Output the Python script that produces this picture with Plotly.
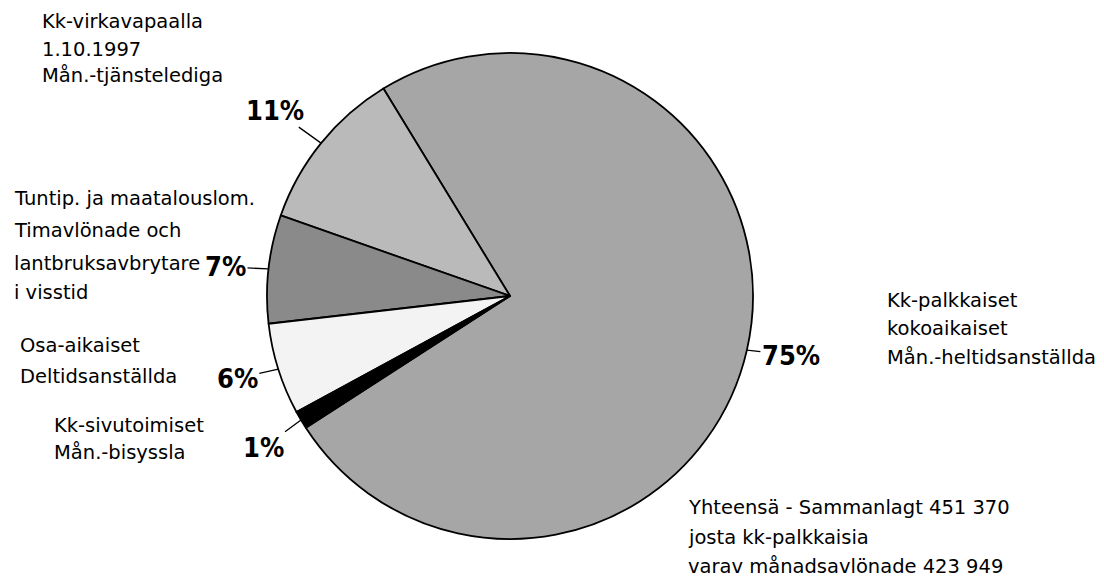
import math
import plotly.graph_objects as go

W, H = 1104, 579

# ---------------- data ----------------
categories = [
    "Kk-palkkaiset kokoaikaiset",
    "Kk-virkavapaalla",
    "Tuntip. ja maatalouslom.",
    "Osa-aikaiset",
    "Kk-sivutoimiset",
]
shares = [74.6, 10.9, 7.2, 6.1, 1.2]          # percent of total
pct_labels = [f"{round(v)}%" for v in shares]
slice_colors = ["#a6a6a6", "#bababa", "#8a8a8a", "#f3f3f3", "#000000"]

total_all = 451370
total_monthly = 423949

def fmt(n):
    return f"{n:,}".replace(",", " ")

# category descriptions (text lines), left x, line centre y (pixels)
text_blocks = [
    (["Kk-palkkaiset", "kokoaikaiset", "Mån.-heltidsanställda"], 885, [300, 329, 357]),
    (["Kk-virkavapaalla", "1.10.1997", "Mån.-tjänstelediga"], 40, [22, 49, 76]),
    (["Tuntip. ja maatalouslom.", "Timavlönade och", "lantbruksavbrytare", "i visstid"], 12, [199, 230, 263, 292]),
    (["Osa-aikaiset", "Deltidsanställda"], 18, [345, 376]),
    (["Kk-sivutoimiset", "Mån.-bisyssla"], 52, [425, 452]),
    ([f"Yhteensä - Sammanlagt {fmt(total_all)}", "josta kk-palkkaisia",
      f"varav månadsavlönade {fmt(total_monthly)}"], 686, [507, 537, 566]),
]

# offsets (pixels) of the percentage text from the slice's outer edge midpoint
pct_offsets = [(44, 5), (-46, -33), (-43, -2), (-41, 9), (-38, 28)]

# ---------------- geometry ----------------
CX, CY, R = 510, 296, 243
ROT = -31.4  # boundary between first and second slice (deg clockwise from 12 o'clock)

dom_x = [(CX - R) / W, (CX + R) / W]
dom_y = [1 - (CY + R) / H, 1 - (CY - R) / H]

BODY_FONT = "DejaVu Sans, Liberation Sans, Arial, sans-serif"
PCT_FONT = "Liberation Sans Narrow, DejaVu Sans Condensed, Liberation Sans, sans-serif"

fig = go.Figure(
    go.Pie(
        labels=categories,
        values=shares,
        sort=False,
        direction="counterclockwise",
        rotation=ROT,
        textinfo="none",
        hoverinfo="label+percent",
        marker=dict(colors=slice_colors, line=dict(color="#000000", width=1.8)),
        domain=dict(x=dom_x, y=dom_y),
        showlegend=False,
    )
)

# mid angles of slices (deg clockwise from 12 o'clock), following plotly's counterclockwise layout
total = sum(shares)
angles = [v / total * 360 for v in shares]
mids = [ROT + angles[0] / 2]
cum = 0
for a in angles[1:]:
    mids.append(ROT - cum - a / 2)
    cum += a

annotations = []
for lab, mid, (ox, oy) in zip(pct_labels, mids, pct_offsets):
    t = math.radians(mid)
    ex = CX + R * math.sin(t)
    ey = CY - R * math.cos(t)
    annotations.append(dict(
        x=ex / W, y=1 - ey / H, xref="paper", yref="paper",
        text=lab, showarrow=True, arrowhead=0, arrowwidth=1.3, arrowcolor="#000",
        ax=ox, ay=oy, standoff=0, startstandoff=0,
        font=dict(family=PCT_FONT, size=27, color="#000", weight="bold"),
    ))

for lines, x0, ys in text_blocks:
    for line, yy in zip(lines, ys):
        annotations.append(dict(
            x=x0 / W, y=1 - yy / H, xref="paper", yref="paper",
            xanchor="left", yanchor="middle", showarrow=False, text=line,
            font=dict(family=BODY_FONT, size=19.5, color="#000"),
        ))

fig.update_layout(
    width=W, height=H,
    margin=dict(l=0, r=0, t=0, b=0),
    paper_bgcolor="white", plot_bgcolor="white",
    annotations=annotations,
)

fig.write_html(
    "out.html",
    config={"displayModeBar": False},
    post_script="document.body.style.margin='0';document.body.style.padding='0';",
)
